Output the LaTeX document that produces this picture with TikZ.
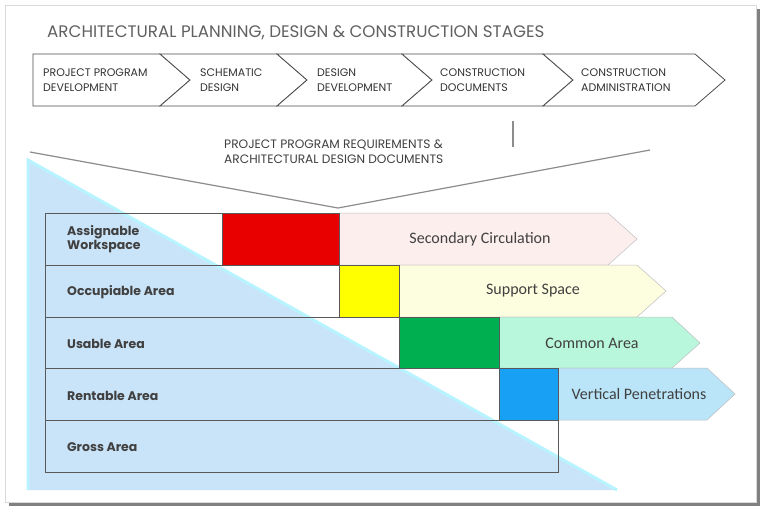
\documentclass[tikz,border=0pt]{standalone}
\usepackage{fontspec}
\setmainfont{Poppins}
\newfontfamily\calfont{Carlito}
\definecolor{framegray}{HTML}{D9D9D9}
\definecolor{shadowgray}{HTML}{808080}
\definecolor{funnelgray}{HTML}{8C8C8C}
\definecolor{triblue}{HTML}{C9E4F8}
\definecolor{tricyan}{HTML}{B8F4FF}
\definecolor{workred}{HTML}{E80000}
\definecolor{circpink}{HTML}{FDEEEE}
\definecolor{occyellow}{HTML}{FFFF00}
\definecolor{supyellow}{HTML}{FDFDE0}
\definecolor{usegreen}{HTML}{00B050}
\definecolor{comgreen}{HTML}{B8F7DB}
\definecolor{rentblue}{HTML}{18A0F5}
\definecolor{vertblue}{HTML}{BAE5F8}
\definecolor{textgray}{HTML}{404040}

\begin{document}
\begin{tikzpicture}[x=1pt,y=-1pt,
  stage/.style={draw=black!70, fill=white, line width=0.8pt},
  stagetext/.style={anchor=west, align=left, inner sep=0pt, text=black!80,
    font=\fontsize{11}{15}\selectfont},
  rowbox/.style={draw=black!65, line width=0.7pt},
  spacebox/.style={draw=black!25, line width=0.5pt},
  rowtext/.style={anchor=west, align=left, inner sep=0pt, text=textgray,
    font=\bfseries\fontsize{12.5}{14}\selectfont},
  spacetext/.style={text=textgray, font=\calfont\fontsize{16}{18}\selectfont}]
\useasboundingbox (0,0) rectangle (768,520);

% frame with shadow
\fill[shadowgray] (9,9) rectangle (760,506);
\draw[framegray, fill=white] (5,5) rectangle (756,502);

\node[anchor=west, inner sep=0pt, text=black!62, font=\fontsize{16.7}{18}\selectfont]
  (title) at (47,33) {ARCHITECTURAL PLANNING, DESIGN \& CONSTRUCTION STAGES};

% stages
\draw[stage] (33,54) -- (160,54) -- (190,80) -- (160,106) -- (33,106) -- cycle;
\foreach \a/\b in {160/277, 277/402, 402/543, 543/695}
  \draw[stage] (\a,54) -- (\b,54) -- (\b+30,80) -- (\b,106) -- (\a,106) -- (\a+30,80) -- cycle;

\node[stagetext] (ppd) at (43,80) {PROJECT PROGRAM\\DEVELOPMENT};
\node[stagetext] (sd)  at (200,80) {SCHEMATIC\\DESIGN};
\node[stagetext] (dd)  at (317,80) {DESIGN\\DEVELOPMENT};
\node[stagetext] (cd)  at (440,80) {CONSTRUCTION\\DOCUMENTS};
\node[stagetext] (ca)  at (581,80) {CONSTRUCTION\\ADMINISTRATION};

\draw[funnelgray, line width=1.5pt] (513,121) -- (513,147);
\node[anchor=west, align=left, inner sep=0pt, text=black!75, font=\fontsize{12.2}{15}\selectfont]
  (req) at (224,152) {PROJECT PROGRAM REQUIREMENTS \&\\ARCHITECTURAL DESIGN DOCUMENTS};

% funnel
\coordinate (funl) at (30,152);
\coordinate (funm) at (338,208);
\coordinate (funr) at (650,150);
\draw[funnelgray, line width=1.2pt] (funl) -- (funm) -- (funr);

% area triangle
\fill[triblue] (28,160) -- (28,490) -- (617,490) -- cycle;
\draw[tricyan, line width=3pt] (28,490) -- (28,160) -- (617,490);

% rows
\draw[rowbox] (45,213) rectangle (222,265);
\draw[rowbox] (45,265) rectangle (339,317);
\draw[rowbox] (45,317) rectangle (399,368);
\draw[rowbox] (45,368) rectangle (499,420);
\draw[rowbox] (45,420) rectangle (558,472);

% spaces
\draw[spacebox, fill=circpink] (339,213) -- (608,213) -- (637,239) -- (608,265) -- (339,265) -- cycle;
\draw[spacebox, fill=supyellow] (399,265) -- (637,265) -- (666,291) -- (637,317) -- (399,317) -- cycle;
\draw[spacebox, fill=comgreen] (499,317) -- (672,317) -- (700,343) -- (672,368) -- (499,368) -- cycle;
\draw[spacebox, fill=vertblue] (558,368) -- (707,368) -- (735,394) -- (707,420) -- (558,420) -- cycle;

\draw[rowbox, fill=workred] (222,213) rectangle (339,265);
\draw[rowbox, fill=occyellow] (339,265) rectangle (399,317);
\draw[rowbox, fill=usegreen] (399,317) rectangle (499,368);
\draw[rowbox, fill=rentblue] (499,368) rectangle (558,420);

\node[rowtext] (assign) at (67,239) {Assignable\\Workspace};
\node[rowtext] (occup)  at (67,292) {Occupiable Area};
\node[rowtext] (usable) at (67,344) {Usable Area};
\node[rowtext] (rent)   at (67,396) {Rentable Area};
\node[rowtext] (gross)  at (67,447) {Gross Area};

\node[spacetext] (circ) at (480,239) {Secondary Circulation};
\node[spacetext] (supp) at (533,291) {Support Space};
\node[spacetext] (comm) at (592,343) {Common Area};
\node[spacetext] (vert) at (639,394) {Vertical Penetrations};
\end{tikzpicture}
\end{document}
